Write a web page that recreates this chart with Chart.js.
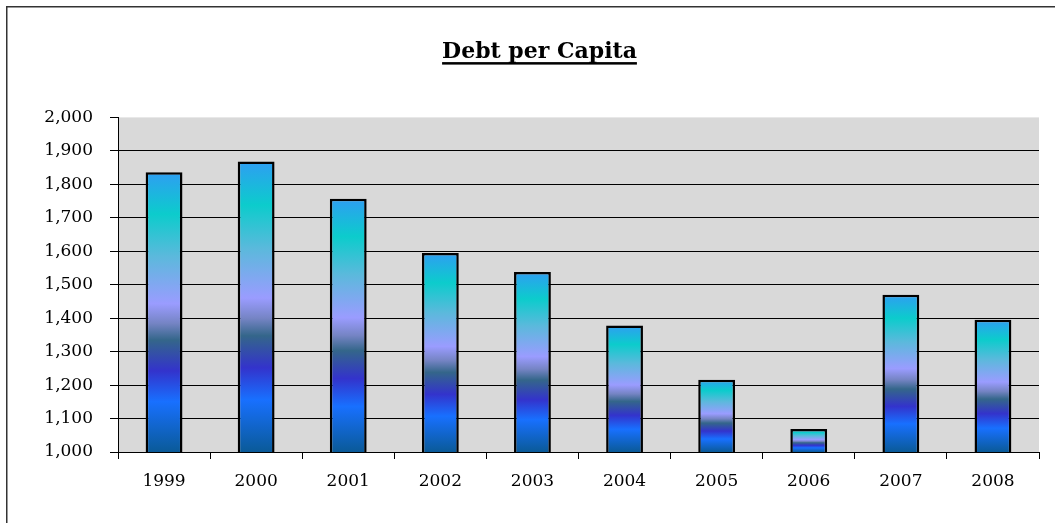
<!DOCTYPE html>
<html>
<head>
<meta charset="utf-8">
<script src="https://cdn.jsdelivr.net/npm/chart.js@4"></script>
<style>
  html, body { margin: 0; padding: 0; background: #fff; overflow: hidden; }
  #debtChart { display: block; }
</style>
</head>
<body>
<canvas id="debtChart" width="1055" height="523"></canvas>
<script>
const years = ["1999", "2000", "2001", "2002", "2003", "2004", "2005", "2006", "2007", "2008"];
const debtPerCapita = [1836, 1868, 1757, 1595, 1538, 1378, 1216, 1069, 1470, 1395];
const yMin = 1000;
const yMax = 2000;
const yStep = 100;

const serif = "'DejaVu Serif', 'Liberation Serif', serif";

// colour bands of the bar fill, top to bottom
const barStops = [
    [0.00, "#2e9ef2"],
    [0.15, "#0ccccc"],
    [0.30, "#5bb9dc"],
    [0.47, "#9a9cff"],
    [0.54, "#7584c4"],
    [0.60, "#34668a"],
    [0.71, "#3333cc"],
    [0.82, "#1870ff"],
    [1.00, "#0a5a98"]
];

function barFill(ctx) {
    const chart = ctx.chart;
    const y = chart.scales.y;
    if (!chart.chartArea || !y || ctx.type !== "data") return "#1870ff";
    const top = y.getPixelForValue(ctx.raw);
    const bottom = y.getPixelForValue(yMin);
    const g = chart.ctx.createLinearGradient(0, top, 0, bottom);
    barStops.forEach(s => g.addColorStop(s[0], s[1]));
    return g;
}

// grey plot area plus the outer frame (top and left edges only show)
const plotBackground = {
    id: "plotBackground",
    beforeDraw(chart) {
        const {ctx, chartArea: a} = chart;
        ctx.save();
        ctx.fillStyle = "#d9d9d9";
        ctx.fillRect(a.left, a.top, a.right - a.left, a.bottom - a.top);
        ctx.strokeStyle = "#333";
        ctx.lineWidth = 1.5;
        ctx.beginPath();
        ctx.moveTo(6.75, chart.height + 5);
        ctx.lineTo(6.75, 6.75);
        ctx.lineTo(chart.width + 5, 6.75);
        ctx.stroke();
        ctx.restore();
    }
};

const titleUnderline = {
    id: "titleUnderline",
    afterDraw(chart) {
        const t = chart.titleBlock;
        const opts = chart.options.plugins.title;
        const ctx = chart.ctx;
        ctx.save();
        ctx.font = "bold " + opts.font.size + "px " + serif;
        const w = ctx.measureText(opts.text).width;
        const cx = (t.left + t.right) / 2;
        const mid = t.top + opts.padding.top + opts.font.size * 0.6;
        const y = mid + opts.font.size * 0.45;
        ctx.fillStyle = "#000";
        ctx.fillRect(cx - w / 2, y, w, 2.5);
        ctx.restore();
    }
};

new Chart(document.getElementById("debtChart"), {
    type: "bar",
    data: {
        labels: years,
        datasets: [{
            data: debtPerCapita,
            backgroundColor: barFill,
            borderColor: "#000",
            borderWidth: 2.5,
            borderSkipped: false,
            barPercentage: 0.4,
            categoryPercentage: 1
        }]
    },
    options: {
        responsive: false,
        animation: false,
        layout: {padding: {left: 40, right: 16, top: 0, bottom: 10}},
        plugins: {
            legend: {display: false},
            tooltip: {enabled: false},
            title: {
                display: true,
                text: "Debt per Capita",
                color: "#000",
                font: {family: serif, size: 22, weight: "bold"},
                padding: {top: 39, bottom: 52}
            }
        },
        scales: {
            x: {
                grid: {
                    offset: true,
                    drawOnChartArea: false,
                    color: "#000",
                    tickLength: 7
                },
                border: {color: "#000", width: 1},
                ticks: {color: "#000", font: {family: serif, size: 17}, padding: 12, maxRotation: 0},
                afterFit(s) { s.height = 61; }
            },
            y: {
                min: yMin,
                max: yMax,
                grid: {
                    color: c => (c.tick && c.tick.value === yMax) ? "rgba(0,0,0,0)" : "#000",
                    tickColor: "#000",
                    lineWidth: 1,
                    tickLength: 8
                },
                border: {color: "#000", width: 1},
                ticks: {
                    stepSize: yStep,
                    color: "#000",
                    font: {family: serif, size: 17},
                    padding: 17,
                    callback: v => v.toLocaleString("en-US")
                },
                afterFit(s) { s.width = 78; }
            }
        }
    },
    plugins: [plotBackground, titleUnderline]
});
</script>
</body>
</html>
